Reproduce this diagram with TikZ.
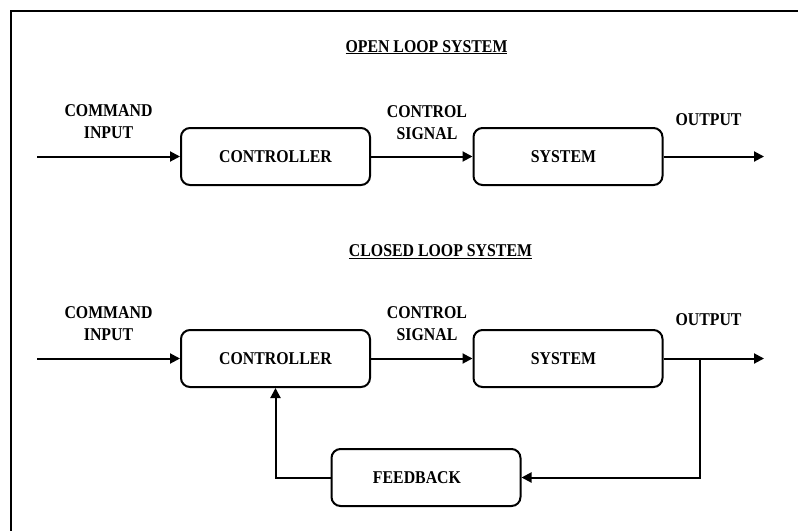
\documentclass[tikz,border=0pt]{standalone}
\usepackage{fontspec}
\setmainfont{Liberation Serif}[FakeStretch=0.88]
\usetikzlibrary{arrows.meta}
\begin{document}
\begin{tikzpicture}[x=1pt,y=-1pt,
  txt/.style={font=\fontsize{18}{22}\selectfont\bfseries, inner sep=0pt, align=center},
  block/.style={txt, draw, line width=2pt, rounded corners=9pt,
                minimum width=189pt, minimum height=57pt},
  flow/.style={line width=2pt, -{Triangle[length=10pt,width=10pt]}},
  wire/.style={line width=2pt}]
\useasboundingbox (0,0) rectangle (798,531);
% outer frame (only top and left edges fall inside the page)
\draw[line width=2pt] (798,11) -- (11,11) -- (11,531);

% ---------- open loop ----------
\node[txt, anchor=base] (t1) at (426.5,52) {\underline{OPEN LOOP SYSTEM}};
\node[block] (c1) at (275.5,156.5) {CONTROLLER};
\node[block] (s1) at (568,156.5) {SYSTEM\hspace*{9pt}};
\coordinate (i1) at (37,156.5);
\coordinate (o1) at (764,156.5);
\node[txt] (ci1) at (108.5,122) {COMMAND\\INPUT};
\node[txt] (cs1) at (427,123) {CONTROL\\SIGNAL};
\node[txt, anchor=base] (op1) at (708.5,125) {OUTPUT};
\draw[flow] (i1) -- (c1.west);
\draw[flow] (c1.east) -- (s1.west);
\draw[flow] (s1.east) -- (o1);

% ---------- closed loop ----------
\node[txt, anchor=base] (t2) at (440.5,256.5) {\underline{CLOSED LOOP SYSTEM}};
\node[block] (c2) at (275.5,358.5) {CONTROLLER};
\node[block] (s2) at (568,358.5) {SYSTEM\hspace*{9pt}};
\node[block] (fb) at (426,477.5) {FEEDBACK\hspace*{18pt}};
\coordinate (i2) at (37,358.5);
\coordinate (o2) at (764,358.5);
\coordinate (br) at (700,358.5);
\node[txt] (ci2) at (108.5,323.5) {COMMAND\\INPUT};
\node[txt] (cs2) at (427,323.5) {CONTROL\\SIGNAL};
\node[txt, anchor=base] (op2) at (708.5,325) {OUTPUT};
\draw[flow] (i2) -- (c2.west);
\draw[flow] (c2.east) -- (s2.west);
\draw[flow] (s2.east) -- (o2);
\draw[flow] (br) |- (fb.east);
\draw[flow] (fb.west) -| (c2.south);
\end{tikzpicture}
\end{document}
